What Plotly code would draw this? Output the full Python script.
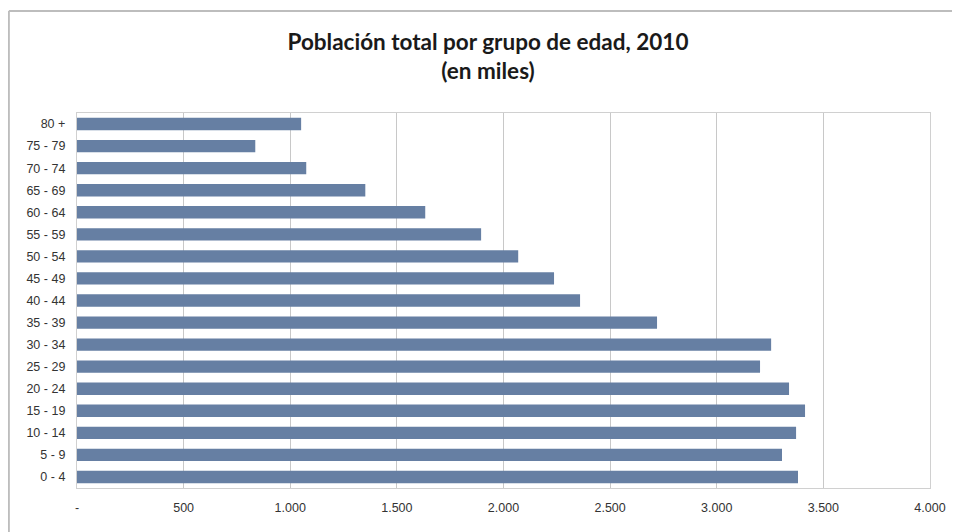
import plotly.graph_objects as go

categories = ["0 - 4", "5 - 9", "10 - 14", "15 - 19", "20 - 24", "25 - 29", "30 - 34",
              "35 - 39", "40 - 44", "45 - 49", "50 - 54", "55 - 59", "60 - 64",
              "65 - 69", "70 - 74", "75 - 79", "80 +"]
values = [3381, 3306, 3372, 3414, 3339, 3203, 3255,
          2720, 2359, 2237, 2069, 1895, 1633,
          1352, 1075, 836, 1051]
tick_vals = [0, 500, 1000, 1500, 2000, 2500, 3000, 3500, 4000]
tick_text = ["-", "500", "1.000", "1.500", "2.000", "2.500", "3.000", "3.500", "4.000"]

title_text = "Población total por grupo de edad, 2010<br>(en miles)"

fig = go.Figure()
fig.add_trace(go.Bar(
    y=categories, x=values, orientation="h",
    marker=dict(color="#667fa3", line=dict(width=0)),
))

fig.update_layout(
    width=952, height=524,
    margin=dict(l=69, r=30, t=105, b=44),
    paper_bgcolor="white", plot_bgcolor="white",
    bargap=0.44,
    showlegend=False,
    font=dict(family="Liberation Sans, Arial, sans-serif", size=12.5, color="#333333"),
    title=dict(
        text=title_text,
        x=0.5042, xanchor="center",
        y=0.9208, yanchor="middle",
        font=dict(family="Lato, Roboto, sans-serif",
                  size=22.5, color="#1a1a1a", weight="bold"),
    ),
    xaxis=dict(
        range=[0, 4000],
        tickvals=tick_vals, ticktext=tick_text,
        showgrid=True, gridcolor="#c8c8c8", gridwidth=1.3,
        showline=True, linecolor="#d0d0d0", linewidth=1.3, mirror=True,
        zeroline=False, ticks="", ticklabelstandoff=8,
        fixedrange=True,
    ),
    yaxis=dict(
        categoryorder="array", categoryarray=categories,
        showgrid=False,
        showline=True, linecolor="#d0d0d0", linewidth=1.3, mirror=True,
        ticks="", ticklabelstandoff=8,
        fixedrange=True,
    ),
    shapes=[
        dict(type="line", xref="paper", yref="paper",
             x0=-0.0799, x1=1.05, y0=1.272, y1=1.272,
             line=dict(color="#bdbdbd", width=2), layer="below"),
        dict(type="line", xref="paper", yref="paper",
             x0=-0.0799, x1=-0.0799, y0=-0.2, y1=1.272,
             line=dict(color="#bdbdbd", width=2), layer="below"),
    ],
)

fig.write_html("out.html")
